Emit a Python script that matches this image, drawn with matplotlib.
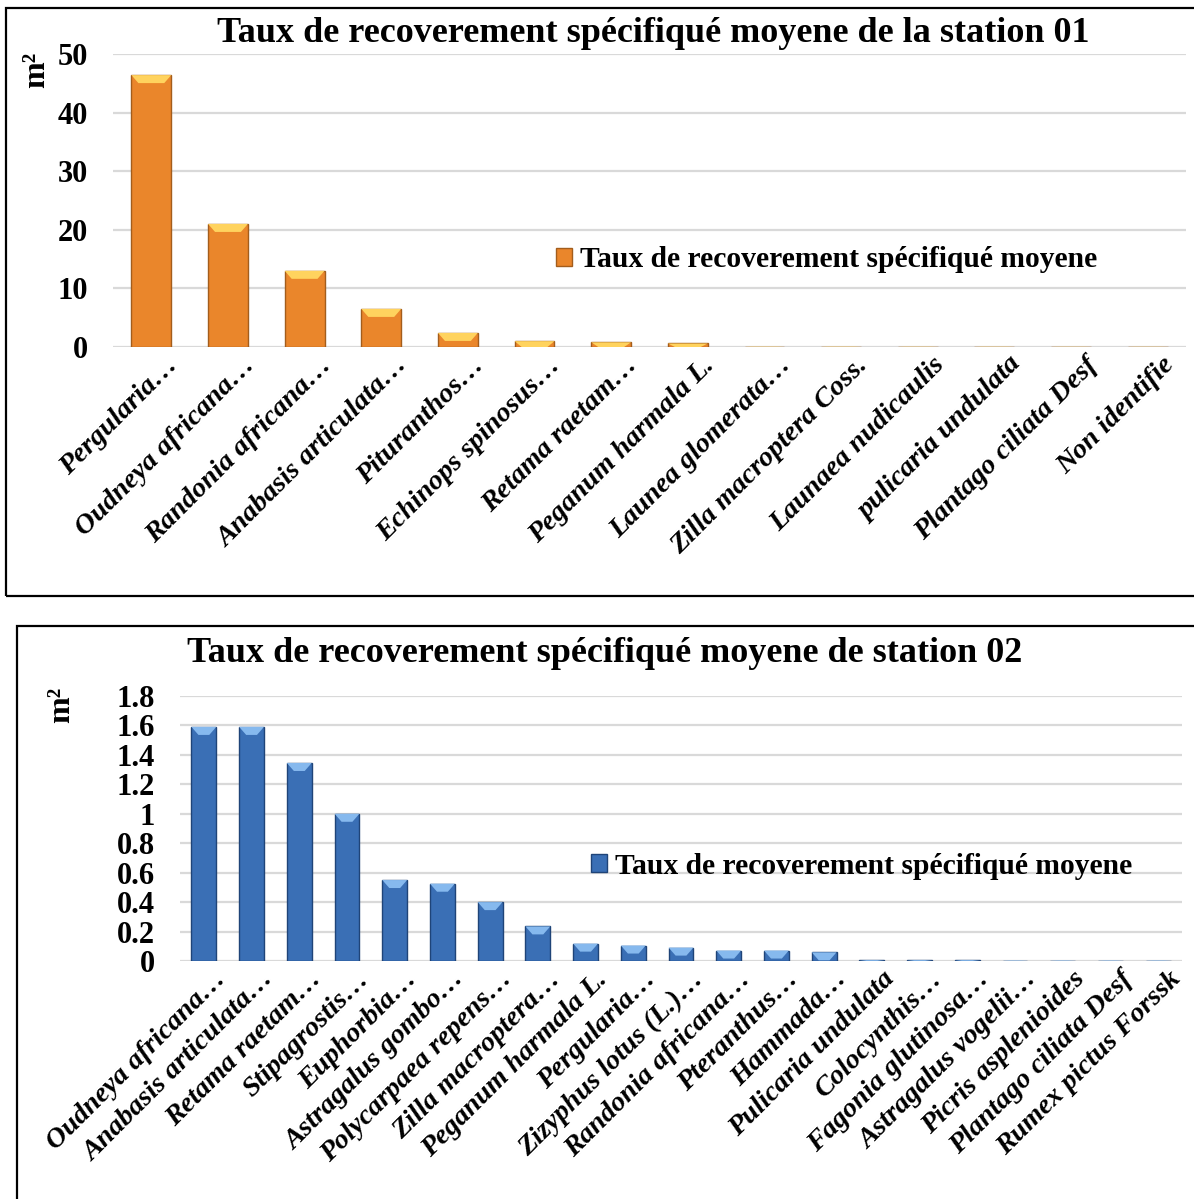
import numpy as np
import matplotlib.pyplot as plt
from matplotlib.patches import Rectangle, Polygon

plt.rcParams['font.family'] = ['Liberation Serif', 'DejaVu Serif']
plt.rcParams['font.weight'] = 'bold'

# station 01
species_1 = ['Pergularia…', 'Oudneya africana…', 'Randonia africana…',
             'Anabasis articulata…', 'Pituranthos…', 'Echinops spinosus…',
             'Retama raetam…', 'Peganum harmala L.', 'Launea glomerata…',
             'Zilla macroptera Coss.', 'Launaea nudicaulis', 'pulicaria undulata',
             'Plantago ciliata Desf', 'Non identifie']
cover_1 = [46.4, 21.0, 13.0, 6.5, 2.4, 1.0, 0.8, 0.6,
           0.05, 0.05, 0.04, 0.04, 0.03, 0.03]
ticks_1 = [0, 10, 20, 30, 40, 50]

# station 02
species_2 = ['Oudneya africana…', 'Anabasis articulata…', 'Retama raetam…',
             'Stipagrostis…', 'Euphorbia…', 'Astragalus gombo…',
             'Polycarpaea repens…', 'Zilla macroptera…', 'Peganum harmala L.',
             'Pergularia…', 'Zizyphus lotus (L.)…', 'Randonia africana…',
             'Pteranthus…', 'Hammada…', 'Pulicaria undulata', 'Colocynthis…',
             'Fagonia glutinosa…', 'Astragalus vogelii…', 'Picris asplenioides',
             'Plantago ciliata Desf', 'Rumex pictus Forssk']
cover_2 = [1.59, 1.59, 1.345, 1.0, 0.55, 0.525, 0.40, 0.235, 0.118, 0.105,
           0.091, 0.071, 0.071, 0.059, 0.006, 0.006, 0.006, 0.003, 0.003,
           0.003, 0.003]
ticks_2 = [0, 0.2, 0.4, 0.6, 0.8, 1, 1.2, 1.4, 1.6, 1.8]

legend_label = 'Taux de recoverement spécifiqué moyene'

W, H = 1194, 1199
fig = plt.figure(figsize=(W / 100, H / 100), dpi=100)


def px_box(l, t, r, b):
    return [l / W, 1 - b / H, (r - l) / W, (b - t) / H]


# panel frames
fig.patches.append(Rectangle((6 / W, 1 - 596 / H), 1.2, 588 / H, transform=fig.transFigure,
                             fill=False, ec='black', lw=1.6, zorder=0))
fig.patches.append(Rectangle((17 / W, -0.2), 1.2, 1 - 626 / H + 0.2, transform=fig.transFigure,
                             fill=False, ec='black', lw=1.6, zorder=0))


def bevel_bars(ax, names, vals, ticks, face, edge, light, legend_xy, lab_size, lab_shift):
    n = len(vals)
    x = np.arange(n)
    ymax = ticks[-1]
    ax.set_xlim(-0.5, n - 0.5)
    ax.set_ylim(0, ymax)
    bars = ax.bar(x, vals, width=0.52, color=face, edgecolor=edge, linewidth=1.0,
                  zorder=3, label=legend_label)
    # top bevel
    hpx = ax.get_position().height * H
    wpx = ax.get_position().width * W
    dy = 8 * ymax / hpx
    dx = 7 * n / wpx
    for b in bars:
        x0 = b.get_x()
        x1 = x0 + b.get_width()
        top = b.get_height()
        d = min(dy, top)
        ax.add_patch(Polygon([(x0, top), (x1, top), (x1 - dx, top - d), (x0 + dx, top - d)],
                             closed=True, fc=light, ec='none', zorder=4))
    ax.set_yticks(ticks)
    ax.set_yticklabels(['%g' % t for t in ticks], fontsize=22, fontweight='bold')
    # labels sit a little right of the bar centre, as in Excel
    ax.set_xticks(x + lab_shift)
    ax.set_xticklabels(names, rotation=45, ha='right', rotation_mode='anchor',
                       fontsize=lab_size, fontweight='bold', fontstyle='italic')
    ax.tick_params(axis='x', length=0, pad=4)
    ax.tick_params(axis='y', length=0, pad=18)
    ax.grid(axis='y', color='#d9d9d9', linewidth=1.6, zorder=0)
    ax.set_axisbelow(True)
    for s in ax.spines.values():
        s.set_visible(False)
    ax.legend(loc='center', bbox_to_anchor=legend_xy, frameon=False,
              handlelength=0.55, handleheight=0.55, handletextpad=0.25,
              prop={'size': 21.3, 'weight': 'bold'})
    return ax


ax1 = fig.add_axes(px_box(113, 54, 1186, 347))
bevel_bars(ax1, species_1, cover_1, ticks_1, '#ea862b', '#a35d1c', '#ffd35e',
           (0.665, 0.297), 20.5, 0.18)

ax2 = fig.add_axes(px_box(180, 696, 1182, 961))
bevel_bars(ax2, species_2, cover_2, ticks_2, '#3a6fb5', '#1f4478', '#86b9ee',
           (0.68, 0.358), 20.5, 0.2)

fig.text(653 / W, 1 - 34 / H, 'Taux de recoverement spécifiqué moyene de la station 01',
         ha='center', va='center', fontsize=26, fontweight='bold')
fig.text(605 / W, 1 - 653 / H, 'Taux de recoverement spécifiqué moyene de station 02',
         ha='center', va='center', fontsize=26, fontweight='bold')
fig.text(37 / W, 1 - 70 / H, 'm²', rotation=90, ha='center', va='center',
         fontsize=23, fontweight='bold')
fig.text(62 / W, 1 - 705 / H, 'm²', rotation=90, ha='center', va='center',
         fontsize=23, fontweight='bold')

fig.savefig('out.png', dpi=100)
